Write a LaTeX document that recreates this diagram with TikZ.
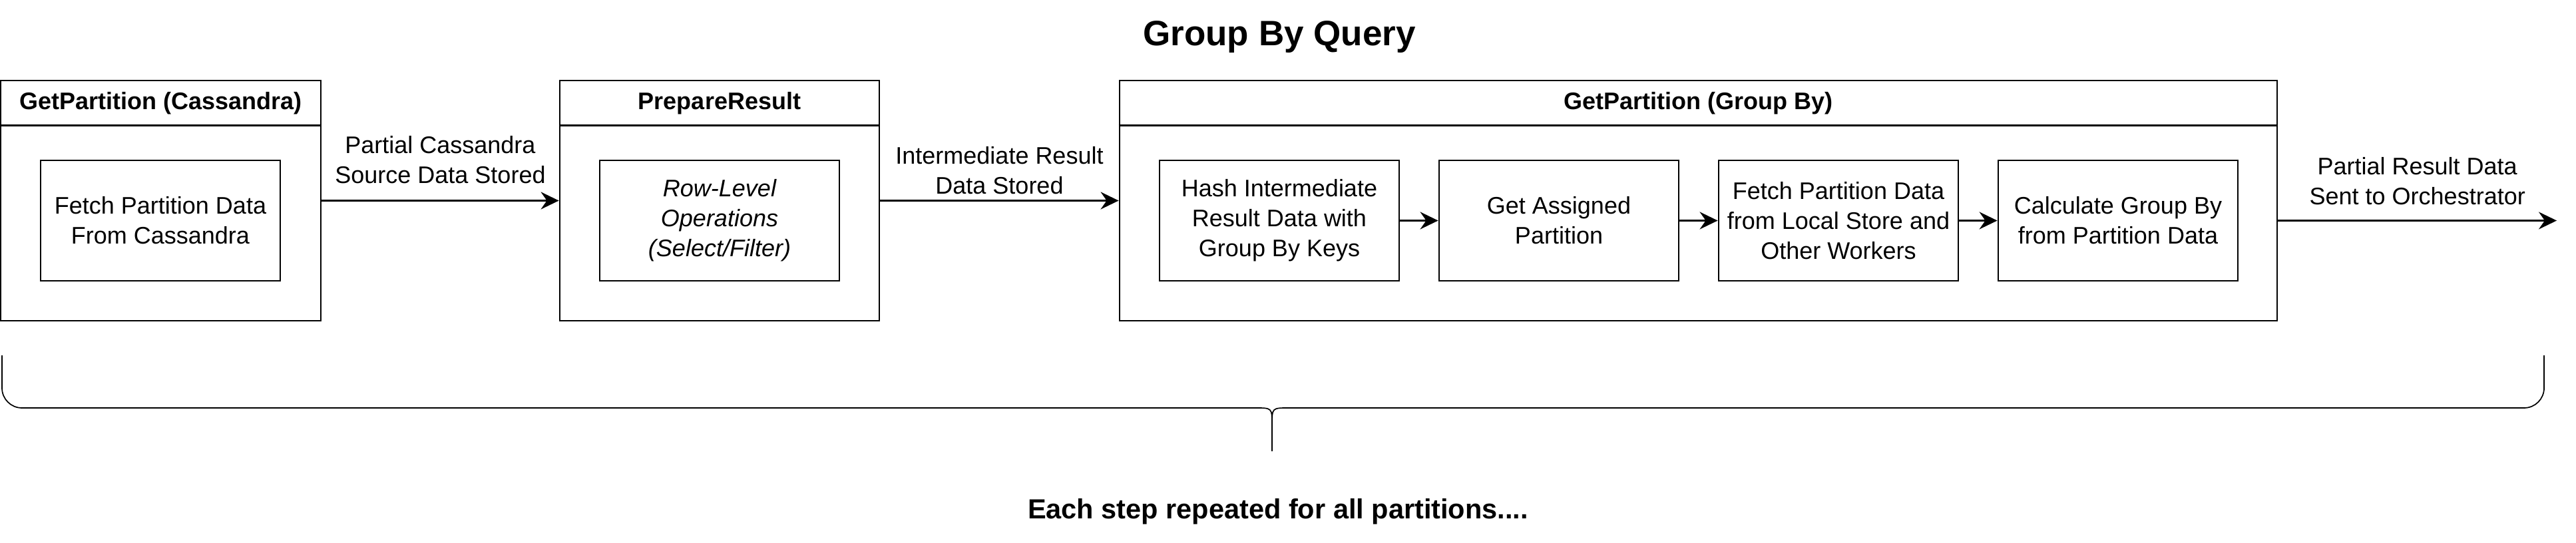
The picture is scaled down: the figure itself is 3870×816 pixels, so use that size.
\documentclass[tikz,border=0pt]{standalone}
\usepackage{fontspec}
\setmainfont{Liberation Sans}
\usepackage{tikz}
\usetikzlibrary{arrows.meta}
\usetikzlibrary{calc}

\begin{document}
\begin{tikzpicture}[
			x=1pt,
			y=-1pt,
			line width=2.8pt,
			every node/.style={
					inner sep=0pt,
					align=center,
					font=\fontsize{36}{45}\selectfont
				},
			stage/.style={
					draw,
					minimum height=361pt
				},
			stagetitle/.style={
					font=\fontsize{36}{45}\selectfont\bfseries
				},
			task/.style={
					draw,
					minimum width=360pt,
					minimum height=181pt
				},
			flow/.style={
					-{Stealth[length=27pt, width=26pt, inset=9pt]}
				},
			bracket/.style={
					line width=1.7pt
				}
		]
		\useasboundingbox (0,0) rectangle (3870,816);

		\node[anchor=base, font=\fontsize{53}{60}\selectfont\bfseries] (title) at (1922,68) {Group By Query};

		% stage boxes
		\node[stage, minimum width=481pt] (getcass) at (241.5,301.5) {};
		\node[stage, minimum width=480pt] (prep) at (1081,301.5) {};
		\node[stage, minimum width=1739pt] (getgroup) at (2551.5,301.5) {};

		\node[stagetitle] (getcasstitle) at (241.5,155) {GetPartition (Cassandra)};
		\node[stagetitle] (preptitle) at (1081,155) {PrepareResult};
		\node[stagetitle] (getgrouptitle) at (2551.5,155) {GetPartition (Group By)};

		\draw ($(getcass.north west)+(0,69)$) -- ($(getcass.north east)+(0,69)$);
		\draw ($(prep.north west)+(0,69)$) -- ($(prep.north east)+(0,69)$);
		\draw ($(getgroup.north west)+(0,69)$) -- ($(getgroup.north east)+(0,69)$);

		% steps inside the stages
		\node[task] (fetchcass) at (241,331.5) {Fetch Partition Data\\From Cassandra};
		\node[task, font=\fontsize{36}{45}\selectfont\itshape] (rowops) at (1081,331.5) {Row-Level\\Operations\\(Select/Filter)};
		\node[task] (hashkeys) at (1922,331.5) {Hash Intermediate\\Result Data with\\Group By Keys};
		\node[task] (assign) at (2342,331.5) {Get Assigned\\Partition};
		\node[task] (fetchpart) at (2762,331.5) {Fetch Partition Data\\from Local Store and\\Other Workers};
		\node[task] (calcgroup) at (3182,331.5) {Calculate Group By\\from Partition Data};

		\coordinate (orch) at (3841,331.5);

		\draw[flow] (getcass) -- (prep) node[midway, yshift=61.5pt] (lblcass) {Partial Cassandra\\Source Data Stored};
		\draw[flow] (prep) -- (getgroup) node[midway, yshift=45.5pt] (lblinter) {Intermediate Result\\Data Stored};
		\draw[flow] (hashkeys) -- (assign);
		\draw[flow] (assign) -- (fetchpart);
		\draw[flow] (fetchpart) -- (calcgroup);
		\draw[flow] (getgroup.east |- calcgroup) -- (orch) node[midway, yshift=59.5pt] (lblorch) {Partial Result Data\\Sent to Orchestrator};

		% brace under all stages
		\draw[bracket, rounded corners=30pt] (3,534) -- (3,613) -- (1887,613);
		\draw[bracket, rounded corners=30pt] (1935,613) -- (3822,613) -- (3822,534);
		\draw[bracket] (1886,613) .. controls (1911,613) .. (1911,638) -- (1911,678);
		\draw[bracket] (1936,613) .. controls (1911,613) .. (1911,638);

		\node[anchor=base, font=\fontsize{41.5}{48}\selectfont\bfseries] (repeat) at (1920,779) {Each step repeated for all partitions....};

	\end{tikzpicture}
\end{document}
